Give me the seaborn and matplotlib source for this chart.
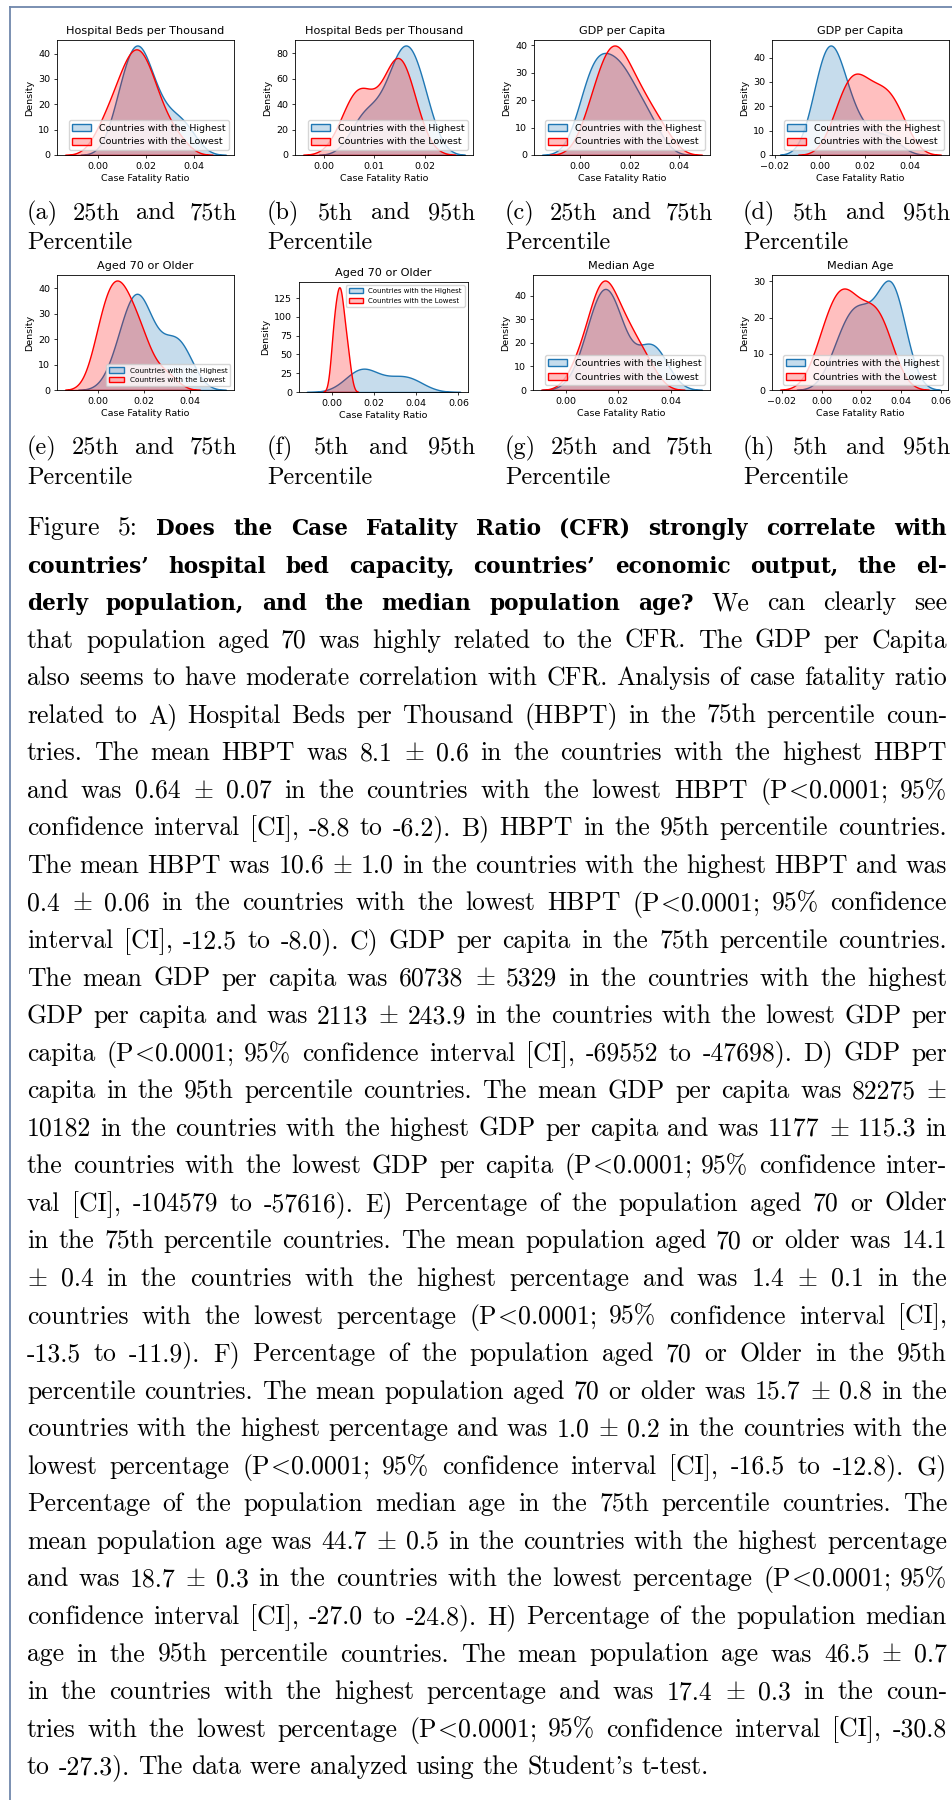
import matplotlib
matplotlib.use("Agg")
import matplotlib.pyplot as plt
import seaborn as sns
from matplotlib.lines import Line2D
from matplotlib.ticker import MultipleLocator

# case fatality ratios of the countries in each group (estimated from the curves)
beds25_high = [0.008, 0.010, 0.012, 0.013, 0.015, 0.016, 0.017, 0.018, 0.019, 0.021, 0.023, 0.026, 0.030, 0.034, 0.038]
beds25_low = [0.001, 0.005, 0.008, 0.010, 0.012, 0.013, 0.015, 0.016, 0.017, 0.019, 0.020, 0.022, 0.024, 0.027, 0.033]
beds5_high = [0.007, 0.009, 0.012, 0.014, 0.015, 0.016, 0.0165, 0.0175, 0.019, 0.020]
beds5_low = [0.0045, 0.0065, 0.0075, 0.0085, 0.013, 0.014, 0.0145, 0.015, 0.016, 0.0175]
gdp25_high = [0.000, 0.003, 0.005, 0.006, 0.007, 0.009, 0.011, 0.013, 0.015, 0.016, 0.018, 0.020, 0.023, 0.026, 0.030]
gdp25_low = [0.003, 0.006, 0.008, 0.010, 0.012, 0.013, 0.014, 0.015, 0.017, 0.019, 0.021, 0.023, 0.026, 0.029, 0.034]
gdp5_high = [0.000, 0.001, 0.002, 0.004, 0.005, 0.007, 0.009, 0.012, 0.019, 0.030]
gdp5_low = [0.008, 0.011, 0.014, 0.016, 0.018, 0.022, 0.026, 0.029, 0.032, 0.036]
old25_high = [0.008, 0.011, 0.013, 0.015, 0.016, 0.017, 0.018, 0.019, 0.021, 0.023, 0.028, 0.032, 0.034, 0.036, 0.039]
old25_low = [0.000, 0.001, 0.003, 0.005, 0.006, 0.007, 0.009, 0.010, 0.011, 0.013, 0.015, 0.017, 0.019, 0.022, 0.030]
old5_high = [0.009, 0.012, 0.014, 0.015, 0.017, 0.021, 0.029, 0.033, 0.036, 0.040]
old5_low = [0.0005, 0.001, 0.002, 0.003, 0.0035, 0.004, 0.0045, 0.0055, 0.0065, 0.008]
age25_high = [0.007, 0.010, 0.012, 0.013, 0.014, 0.015, 0.016, 0.017, 0.018, 0.020, 0.022, 0.030, 0.032, 0.034, 0.036]
age25_low = [0.004, 0.008, 0.010, 0.012, 0.013, 0.014, 0.015, 0.016, 0.017, 0.019, 0.021, 0.023, 0.025, 0.028, 0.032]
age5_high = [0.008, 0.013, 0.017, 0.020, 0.024, 0.032, 0.034, 0.035, 0.036, 0.039]
age5_low = [0.000, 0.004, 0.008, 0.011, 0.013, 0.016, 0.023, 0.026, 0.029, 0.033]

titles = ["Hospital Beds per Thousand", "Hospital Beds per Thousand", "GDP per Capita", "GDP per Capita",
          "Aged 70 or Older", "Aged 70 or Older", "Median Age", "Median Age"]
series = [(beds25_high, beds25_low), (beds5_high, beds5_low), (gdp25_high, gdp25_low), (gdp5_high, gdp5_low),
          (old25_high, old25_low), (old5_high, old5_low), (age25_high, age25_low), (age5_high, age5_low)]
sub_letters = ["a", "b", "c", "d", "e", "f", "g", "h"]
sub_ranges = ["25th and 75th", "5th and 95th"] * 4
legend_labels = ["Countries with the Highest", "Countries with the Lowest"]

body_lines = [
    "Figure 5: Does the Case Fatality Ratio (CFR) strongly correlate with",
    "countries’ hospital bed capacity, countries’ economic output, the el-",
    "derly population, and the median population age? We can clearly see",
    "that population aged 70 was highly related to the CFR. The GDP per Capita",
    "also seems to have moderate correlation with CFR. Analysis of case fatality ratio",
    "related to A) Hospital Beds per Thousand (HBPT) in the 75th percentile coun-",
    "tries. The mean HBPT was 8.1 ± 0.6 in the countries with the highest HBPT",
    "and was 0.64 ± 0.07 in the countries with the lowest HBPT (P<0.0001; 95%",
    "confidence interval [CI], -8.8 to -6.2). B) HBPT in the 95th percentile countries.",
    "The mean HBPT was 10.6 ± 1.0 in the countries with the highest HBPT and was",
    "0.4 ± 0.06 in the countries with the lowest HBPT (P<0.0001; 95% confidence",
    "interval [CI], -12.5 to -8.0). C) GDP per capita in the 75th percentile countries.",
    "The mean GDP per capita was 60738 ± 5329 in the countries with the highest",
    "GDP per capita and was 2113 ± 243.9 in the countries with the lowest GDP per",
    "capita (P<0.0001; 95% confidence interval [CI], -69552 to -47698). D) GDP per",
    "capita in the 95th percentile countries. The mean GDP per capita was 82275 ±",
    "10182 in the countries with the highest GDP per capita and was 1177 ± 115.3 in",
    "the countries with the lowest GDP per capita (P<0.0001; 95% confidence inter-",
    "val [CI], -104579 to -57616). E) Percentage of the population aged 70 or Older",
    "in the 75th percentile countries. The mean population aged 70 or older was 14.1",
    "± 0.4 in the countries with the highest percentage and was 1.4 ± 0.1 in the",
    "countries with the lowest percentage (P<0.0001; 95% confidence interval [CI],",
    "-13.5 to -11.9). F) Percentage of the population aged 70 or Older in the 95th",
    "percentile countries. The mean population aged 70 or older was 15.7 ± 0.8 in the",
    "countries with the highest percentage and was 1.0 ± 0.2 in the countries with the",
    "lowest percentage (P<0.0001; 95% confidence interval [CI], -16.5 to -12.8). G)",
    "Percentage of the population median age in the 75th percentile countries. The",
    "mean population age was 44.7 ± 0.5 in the countries with the highest percentage",
    "and was 18.7 ± 0.3 in the countries with the lowest percentage (P<0.0001; 95%",
    "confidence interval [CI], -27.0 to -24.8). H) Percentage of the population median",
    "age in the 95th percentile countries. The mean population age was 46.5 ± 0.7",
    "in the countries with the highest percentage and was 17.4 ± 0.3 in the coun-",
    "tries with the lowest percentage (P<0.0001; 95% confidence interval [CI], -30.8",
    "to -27.3). The data were analyzed using the Student’s t-test.",
]
# bold word spans per line (start, end)
bold_spans = {0: (2, None), 1: (0, None), 2: (0, 7)}

plt.rcParams.update({
    "font.size": 6.8,
    "axes.titlesize": 8.1,
    "axes.linewidth": 0.6,
    "lines.linewidth": 1.0,
    "xtick.major.size": 2.4, "ytick.major.size": 2.4,
    "xtick.major.width": 0.55, "ytick.major.width": 0.55,
    "xtick.major.pad": 2.4, "ytick.major.pad": 2.4,
    "axes.titlepad": 4.0,
    "axes.labelpad": 2.7,
    "legend.fontsize": 6.8,
    "mathtext.fontset": "cm",
})

W, H = 953, 1800
fig = plt.figure(figsize=(W / 100, H / 100), dpi=100)

# axes boxes in pixels: left, top, right, bottom
boxes = [(57, 40, 234, 155), (295, 40, 473, 155), (534, 40, 710, 155), (772, 40, 949, 155),
         (57, 275, 234, 390), (299, 282, 468, 392), (533, 275, 710, 390), (772, 275, 948, 390)]
leg_loc = ["lower right"] * 5 + ["upper right"] + ["lower right"] * 2
leg_size = [6.8, 6.8, 6.8, 6.8, 5.3, 5.0, 6.8, 6.8]

for i, (hi, lo) in enumerate(series):
    l, t, r, b = boxes[i]
    ax = fig.add_axes([l / W, 1 - b / H, (r - l) / W, (b - t) / H])
    sns.kdeplot(x=hi, fill=True, color="tab:blue", label=legend_labels[0], ax=ax)
    sns.kdeplot(x=lo, fill=True, color="red", label=legend_labels[1], ax=ax)
    ax.set_title(titles[i])
    ax.set_xlabel("Case Fatality Ratio")
    ax.set_ylabel("Density")
    ax.legend(loc=leg_loc[i], fontsize=leg_size[i])
    if i == 5:
        ax.yaxis.set_major_locator(MultipleLocator(25))

# page frame
fig.add_artist(Line2D([10 / W, 10 / W], [0, 1 - 7 / H], transform=fig.transFigure, color="#6f87ab", lw=1.3))
fig.add_artist(Line2D([10 / W, 1], [1 - 7 / H, 1 - 7 / H], transform=fig.transFigure, color="#6f87ab", lw=1.3))

renderer = fig.canvas.get_renderer()


def put_line(words, bolds, x0, x1, base, fs, justify=True):
    arts = []
    for w, bd in zip(words, bolds):
        if bd:
            arts.append(fig.text(0, 1 - base / H, w, fontsize=fs * 0.84, family="DejaVu Serif",
                                 weight="bold", ha="left", va="baseline"))
        else:
            # cmr10 keeps TeX encoding: ' draws a closing quote
            s = w.replace("’", "'").replace("±", r"$\pm$").replace("<", r"$\!<\!$")
            arts.append(fig.text(0, 1 - base / H, s, fontsize=fs, family="cmr10",
                                 ha="left", va="baseline"))
    widths = [a.get_window_extent(renderer).width for a in arts]
    space = fs * 100 / 72 * 0.333
    gap = (x1 - x0 - sum(widths)) / (len(arts) - 1) if justify and len(arts) > 1 else space
    x = x0
    for a, w in zip(arts, widths):
        a.set_x(x / W)
        x += w + gap


# subfigure captions
cap_left = [27, 267, 505, 743]
cap_right = [237, 475, 713, 950]
for i in range(8):
    row, col = divmod(i, 4)
    y1 = 212 if row == 0 else 447
    words = ["(" + sub_letters[i] + ")"] + sub_ranges[i].split()
    put_line(words, [False] * len(words), cap_left[col], cap_right[col], y1 + 7, 17.5)
    put_line(["Percentile"], [False], cap_left[col], cap_right[col], y1 + 37, 17.5, justify=False)

# figure caption body
for k, line in enumerate(body_lines):
    words = line.split()
    bolds = [False] * len(words)
    if k in bold_spans:
        s, e = bold_spans[k]
        e = len(words) if e is None else e
        for j in range(s, e):
            bolds[j] = True
    base = 528 + 37.55 * k + 7
    put_line(words, bolds, 27, 947, base, 18.5, justify=(k < len(body_lines) - 1))

fig.savefig("out.png", dpi=100)
